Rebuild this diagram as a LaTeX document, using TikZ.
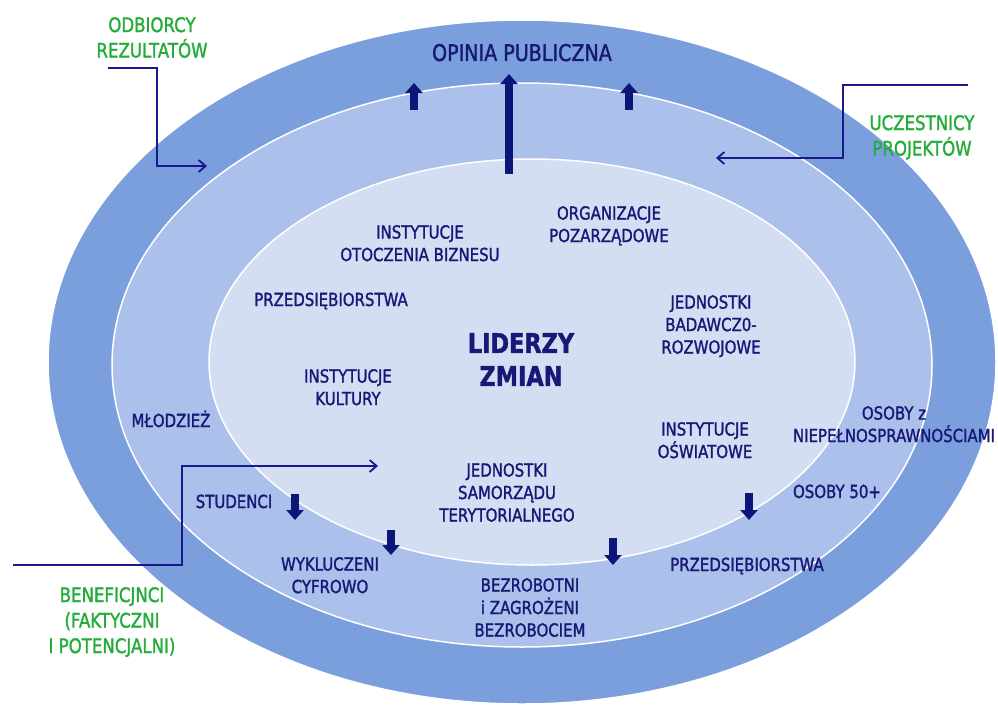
\documentclass[tikz,border=0pt]{standalone}
\usepackage{fontspec}
\setmainfont{DejaVu Sans}[FakeStretch=0.83,FakeBold=1.5]
\usetikzlibrary{arrows.meta}

\definecolor{outerblue}{RGB}{123,159,221}
\definecolor{midblue}{RGB}{171,192,235}
\definecolor{innerblue}{RGB}{212,222,243}
\definecolor{navy}{RGB}{24,24,118}
\definecolor{arrowblue}{RGB}{12,22,120}
\definecolor{linkblue}{RGB}{25,25,140}
\definecolor{grn}{RGB}{36,172,58}

\begin{document}
\begin{tikzpicture}[x=1pt,y=-1pt,
	ring/.style={draw=white,line width=1.5pt},
	lab/.style={text=navy,font=\fontsize{18}{22.5}\selectfont,align=center,inner sep=0pt},
	grp/.style={text=grn,font=\fontsize{20}{25.5}\selectfont,align=center,inner sep=0pt},
	fat/.style={draw=arrowblue,line width=8pt,-{Triangle[width=17pt,length=10pt]}},
	link/.style={draw=linkblue,line width=1.8pt,-{Straight Barb[length=7pt,width=12pt]}}]
	\useasboundingbox (0,0) rectangle (998,709);

	% three rings
	\draw[ring,fill=outerblue] (522,362) ellipse [x radius=474,y radius=342];
	\draw[ring,fill=midblue] (522,365) ellipse [x radius=410,y radius=282];
	\draw[ring,fill=innerblue] (532,362) ellipse [x radius=323,y radius=203];

	% block arrows
	\foreach \x/\ya/\yb in {414/110/83, 509/174/74, 629/110/83,
			295/494/520, 391/530/555, 613/538/565, 749/493/520}
		\draw[fat] (\x,\ya) -- (\x,\yb);

	% centre
	\node[lab,anchor=north,font=\bfseries\fontsize{27}{33}\selectfont] (liderzy) at (521,333) {LIDERZY\\ZMIAN};
	\node[lab,anchor=north] (otoczenie) at (420,225) {INSTYTUCJE\\OTOCZENIA BIZNESU};
	\node[lab,anchor=north] (ngo) at (609,206) {ORGANIZACJE\\POZARZĄDOWE};
	\node[lab,anchor=base] (firmy) at (331,306) {PRZEDSIĘBIORSTWA};
	\node[lab,anchor=north] (badawcze) at (711,295) {JEDNOSTKI\\BADAWCZ0-\\ROZWOJOWE};
	\node[lab,anchor=north] (kultura) at (348,369) {INSTYTUCJE\\KULTURY};
	\node[lab,anchor=north] (oswiata) at (705,422) {INSTYTUCJE\\OŚWIATOWE};
	\node[lab,anchor=north] (samorzad) at (507,463) {JEDNOSTKI\\SAMORZĄDU\\TERYTORIALNEGO};

	% middle ring
	\node[lab,anchor=base] (mlodziez) at (171,427) {MŁODZIEŻ};
	\node[lab,anchor=base] (studenci) at (234,508) {STUDENCI};
	\node[lab,anchor=north] (wykluczeni) at (330,557) {WYKLUCZENI\\CYFROWO};
	\node[lab,anchor=north] (bezrobotni) at (530,578) {BEZROBOTNI\\i ZAGROŻENI\\BEZROBOCIEM};
	\node[lab,anchor=base] (przeds) at (747,571) {PRZEDSIĘBIORSTWA};
	\node[lab,anchor=base] (osoby50) at (837,498) {OSOBY 50+};
	\node[lab,anchor=north] (niepeln) at (894,406) {OSOBY z\\NIEPEŁNOSPRAWNOŚCIAMI};

	% outer ring
	\node[lab,anchor=base,font=\fontsize{23}{28}\selectfont] (opinia) at (522,61) {OPINIA PUBLICZNA};

	% groups outside
	\node[grp,anchor=north] (odbiorcy) at (152,17) {ODBIORCY\\REZULTATÓW};
	\node[grp,anchor=north] (uczestnicy) at (922,115) {UCZESTNICY\\PROJEKTÓW};
	\node[grp,anchor=north] (benef) at (112,587) {BENEFICJNCI\\(FAKTYCZNI\\I POTENCJALNI)};

	\coordinate (odb-a) at (108,68);
	\coordinate (odb-b) at (207,166);
	\coordinate (ucz-a) at (968,85);
	\coordinate (ucz-b) at (716,158);
	\coordinate (ben-a) at (13,565);
	\coordinate (ben-b) at (378,466);
	\draw[link] (odb-a) -- ++(49,0) |- (odb-b);
	\draw[link] (ucz-a) -- ++(-125,0) |- (ucz-b);
	\draw[link] (ben-a) -- ++(169,0) |- (ben-b);
\end{tikzpicture}
\end{document}
